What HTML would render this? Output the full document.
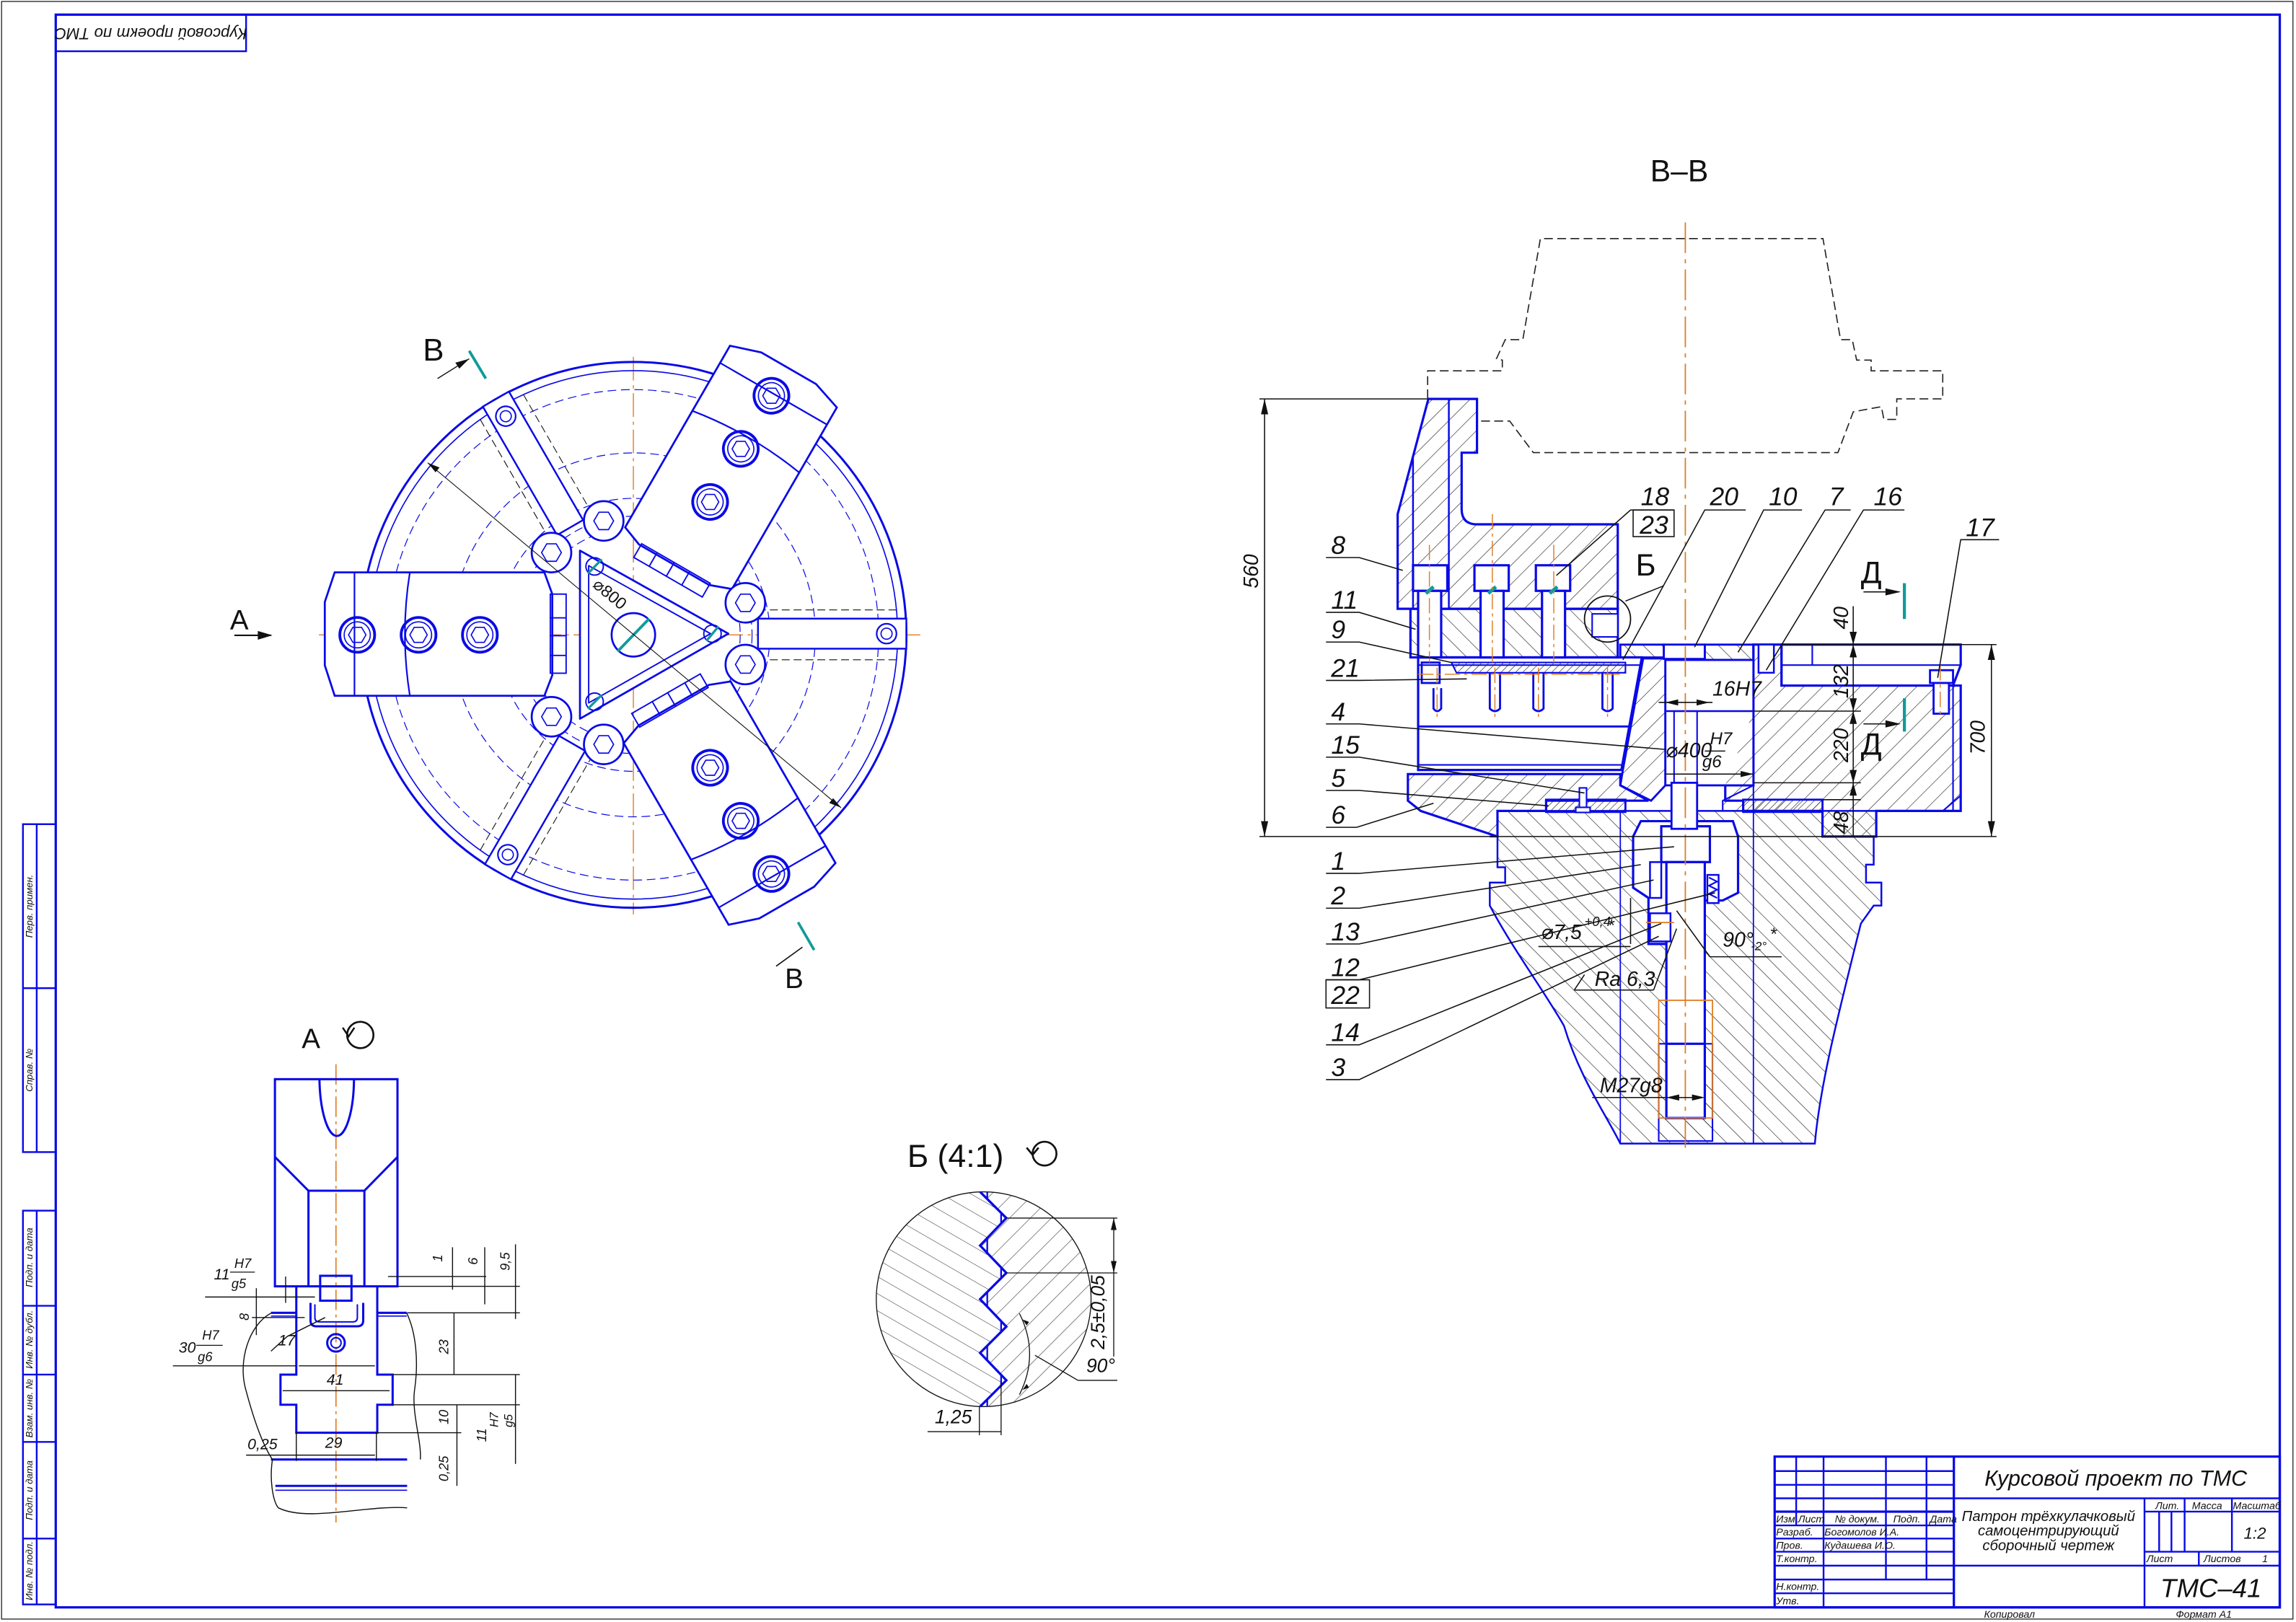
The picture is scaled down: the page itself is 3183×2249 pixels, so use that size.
<!DOCTYPE html>
<html><head><meta charset="utf-8">
<style>
html,body{margin:0;padding:0;background:#fff;}
svg{display:block;}
text{font-family:"Liberation Sans","DejaVu Sans",sans-serif;font-style:italic;fill:#111;}
.b{fill:none;stroke:#0a0ae6;}
.bw{fill:#fff;stroke:#0a0ae6;}
.k{fill:none;stroke:#111;}
.o{fill:none;stroke:#e07a20;}
</style></head>
<body>
<svg width="3183" height="2249" viewBox="0 0 1568 1108" xmlns="http://www.w3.org/2000/svg">
<defs>
<pattern id="h1" patternUnits="userSpaceOnUse" width="26" height="26" patternTransform="rotate(45)"><line x1="0" y1="0" x2="0" y2="26" stroke="#222" stroke-width="1.8"/></pattern>
<pattern id="h2" patternUnits="userSpaceOnUse" width="26" height="26" patternTransform="rotate(-45)"><line x1="0" y1="0" x2="0" y2="26" stroke="#222" stroke-width="1.8"/></pattern>
<pattern id="h3" patternUnits="userSpaceOnUse" width="10" height="10" patternTransform="rotate(45)"><line x1="0" y1="0" x2="0" y2="10" stroke="#222" stroke-width="1.8"/></pattern>
<pattern id="hb1" patternUnits="userSpaceOnUse" width="62" height="62" patternTransform="rotate(-60)"><line x1="0" y1="0" x2="0" y2="62" stroke="#222" stroke-width="3"/></pattern>
<pattern id="hb2" patternUnits="userSpaceOnUse" width="62" height="62" patternTransform="rotate(45)"><line x1="0" y1="0" x2="0" y2="62" stroke="#222" stroke-width="3"/></pattern>
<clipPath id="cb"><circle cx="555" cy="730" r="450"/></clipPath>
</defs>

<!-- frames -->
<rect x="1" y="1" width="1565" height="1105" fill="none" stroke="#111" stroke-width="0.6"/>
<rect x="38" y="10" width="1519" height="1088" class="b" stroke-width="1.6"/>
<rect x="38" y="10" width="130" height="25" class="b" stroke-width="1.2"/>
<text transform="translate(103,22) rotate(180)" font-size="11" text-anchor="middle" dominant-baseline="middle">Курсовой проект по ТМС</text>

<!-- left strip -->
<g class="b" stroke-width="1.2">
<rect x="15.6" y="563" width="22.4" height="224"/>
<line x1="25" y1="563" x2="25" y2="787"/>
<line x1="15.6" y1="675" x2="38" y2="675"/>
<rect x="15.6" y="827" width="22.4" height="269"/>
<line x1="25" y1="827" x2="25" y2="1096"/>
<line x1="15.6" y1="892" x2="38" y2="892"/>
<line x1="15.6" y1="939" x2="38" y2="939"/>
<line x1="15.6" y1="985" x2="38" y2="985"/>
<line x1="15.6" y1="1051" x2="38" y2="1051"/>
</g>
<g font-size="6.5">
<text transform="translate(22,619) rotate(-90)" text-anchor="middle">Перв. примен.</text>
<text transform="translate(22,731) rotate(-90)" text-anchor="middle">Справ. №</text>
<text transform="translate(22,859) rotate(-90)" text-anchor="middle">Подп. и дата</text>
<text transform="translate(22,915) rotate(-90)" text-anchor="middle">Инв. № дубл.</text>
<text transform="translate(22,962) rotate(-90)" text-anchor="middle">Взам. инв. №</text>
<text transform="translate(22,1018) rotate(-90)" text-anchor="middle">Подп. и дата</text>
<text transform="translate(22,1073) rotate(-90)" text-anchor="middle">Инв. № подл.</text>
</g>

<!-- title block -->
<g class="b" stroke-width="1.2">
<rect x="1212" y="995" width="345" height="103" stroke-width="1.6"/>
<line x1="1226.7" y1="995" x2="1226.7" y2="1042"/>
<line x1="1245.4" y1="995" x2="1245.4" y2="1098"/>
<line x1="1288" y1="995" x2="1288" y2="1079"/>
<line x1="1315.7" y1="995" x2="1315.7" y2="1079"/>
<line x1="1334.4" y1="995" x2="1334.4" y2="1098" stroke-width="1.6"/>
<line x1="1212" y1="1004.9" x2="1334.4" y2="1004.9"/>
<line x1="1212" y1="1014.3" x2="1334.4" y2="1014.3"/>
<line x1="1212" y1="1023.5" x2="1557" y2="1023.5"/>
<line x1="1212" y1="1032.6" x2="1334.4" y2="1032.6" stroke-width="1.6"/>
<line x1="1212" y1="1042" x2="1334.4" y2="1042"/>
<line x1="1212" y1="1051" x2="1334.4" y2="1051"/>
<line x1="1212" y1="1060" x2="1334.4" y2="1060"/>
<line x1="1212" y1="1069.5" x2="1557" y2="1069.5"/>
<line x1="1212" y1="1079" x2="1334.4" y2="1079"/>
<line x1="1212" y1="1088.4" x2="1334.4" y2="1088.4"/>
<line x1="1464.6" y1="1023.5" x2="1464.6" y2="1098"/>
<line x1="1492" y1="1023.5" x2="1492" y2="1060"/>
<line x1="1524.3" y1="1023.5" x2="1524.3" y2="1060"/>
<line x1="1464.6" y1="1032.6" x2="1557" y2="1032.6"/>
<line x1="1464.6" y1="1060" x2="1557" y2="1060"/>
<line x1="1474.6" y1="1032.6" x2="1474.6" y2="1060"/>
<line x1="1483" y1="1032.6" x2="1483" y2="1060"/>
<line x1="1501.7" y1="1060" x2="1501.7" y2="1069.5"/>
</g>
<text x="1445" y="1015" font-size="15" text-anchor="middle">Курсовой проект по ТМС</text>
<g font-size="10" text-anchor="middle">
<text x="1399" y="1039">Патрон трёхкулачковый</text>
<text x="1399" y="1049">самоцентрирующий</text>
<text x="1399" y="1059">сборочный чертеж</text>
</g>
<g font-size="7">
<text x="1472" y="1031">Лит.</text><text x="1497" y="1031">Масса</text><text x="1525" y="1031">Масштаб</text>
<text x="1466" y="1067">Лист</text><text x="1505" y="1067">Листов</text><text x="1545" y="1067">1</text>
<text x="1213" y="1040">Изм.</text><text x="1228" y="1040">Лист</text><text x="1253" y="1040">№ докум.</text><text x="1293" y="1040">Подп.</text><text x="1318" y="1040">Дата</text>
<text x="1213" y="1049">Разраб.</text><text x="1246" y="1049">Богомолов И.А.</text>
<text x="1213" y="1058">Пров.</text><text x="1246" y="1058">Кудашева И.О.</text>
<text x="1213" y="1067">Т.контр.</text>
<text x="1213" y="1086">Н.контр.</text>
<text x="1213" y="1096">Утв.</text>
<text x="1355" y="1105">Копировал</text>
<text x="1486" y="1105">Формат    А1</text>
</g>
<text x="1540" y="1051" font-size="11" text-anchor="middle">1:2</text>
<text x="1510" y="1091" font-size="18" text-anchor="middle">ТМС–41</text>

<!-- ============ FRONT VIEW ============ -->
<g transform="translate(206.9,216.7) scale(0.2702)">
<line class="o" x1="40" y1="803" x2="1560" y2="803" stroke-width="2.5" stroke-dasharray="60 12 8 12"/>
<line class="o" x1="835" y1="100" x2="835" y2="1510" stroke-width="2.5" stroke-dasharray="60 12 8 12"/>
<circle cx="835" cy="803" r="690" class="b" stroke-width="5.5"/>
<circle cx="835" cy="803" r="668" class="b" stroke-width="3"/>
<g class="b" stroke-width="2.2" stroke-dasharray="22 12">
<circle cx="835" cy="803" r="620"/>
<circle cx="835" cy="803" r="460"/>
<circle cx="835" cy="803" r="345"/>
<circle cx="835" cy="803" r="300"/>
<circle cx="835" cy="803" r="270"/>
</g>
<!-- spokes -->
<g id="spoke">
<line x1="1150" y1="740" x2="1500" y2="740" class="k" stroke-width="2" stroke-dasharray="20 10"/>
<line x1="1150" y1="866" x2="1500" y2="866" class="k" stroke-width="2" stroke-dasharray="20 10"/>
<rect x="1150" y="762" width="375" height="76" class="bw" stroke-width="4.5"/>
<circle cx="1475" cy="800" r="25" class="b" stroke-width="4"/>
<circle cx="1475" cy="800" r="14" class="b" stroke-width="3"/>
</g>
<use href="#spoke" transform="rotate(120 835 803)"/>
<use href="#spoke" transform="rotate(240 835 803)"/>
<!-- jaws -->
<g id="jaw">
<polygon points="80,645 610,645 630,700 630,905 610,957 80,957 55,880 55,720" class="bw" stroke-width="5"/>
<line x1="130" y1="645" x2="130" y2="957" class="b" stroke-width="4"/>
<path d="M270,645 Q245,800 270,957" class="b" stroke-width="4"/>
<g class="b" stroke-width="3.5">
<rect x="625" y="700" width="40" height="200"/>
<line x1="625" y1="760" x2="665" y2="760"/><line x1="625" y1="805" x2="665" y2="805"/><line x1="625" y1="855" x2="665" y2="855"/>
</g>
<g class="b">
<circle cx="137" cy="803" r="44" stroke-width="7"/><circle cx="137" cy="803" r="33" stroke-width="3"/>
<polygon points="159,803 148,822 126,822 115,803 126,784 148,784" stroke-width="3"/>
<circle cx="292" cy="803" r="44" stroke-width="7"/><circle cx="292" cy="803" r="33" stroke-width="3"/>
<polygon points="314,803 303,822 281,822 270,803 281,784 303,784" stroke-width="3"/>
<circle cx="447" cy="803" r="44" stroke-width="7"/><circle cx="447" cy="803" r="33" stroke-width="3"/>
<polygon points="469,803 458,822 436,822 425,803 436,784 458,784" stroke-width="3"/>
</g>
</g>
<use href="#jaw" transform="rotate(120 835 803)"/>
<use href="#jaw" transform="rotate(240 835 803)"/>
<!-- hub -->
<polygon points="700,590 1075,800 700,1015" class="bw" stroke-width="5" stroke-linejoin="round"/>
<polygon points="722,628 1030,800 722,975" class="b" stroke-width="3.5" stroke-linejoin="round"/>
<g id="bolt6" class="bw" stroke-width="5">
<circle cx="760" cy="515" r="50"/><polygon points="785,515 772,537 748,537 735,515 748,493 772,493" stroke-width="3"/>
</g>
<use href="#bolt6" transform="translate(-132,80)"/>
<use href="#bolt6" transform="translate(358,207)"/>
<use href="#bolt6" transform="translate(358,363)"/>
<use href="#bolt6" transform="translate(-132,495)"/>
<use href="#bolt6" transform="translate(0,565)"/>
<circle cx="835" cy="803" r="55" class="b" stroke-width="5"/>
<line x1="795" y1="845" x2="875" y2="762" stroke="#129a9a" stroke-width="7"/>
<g class="b" stroke-width="3.5"><circle cx="737" cy="630" r="22"/><circle cx="737" cy="972" r="22"/><circle cx="1035" cy="800" r="22"/></g>
<g stroke="#129a9a" stroke-width="6"><line x1="720" y1="648" x2="755" y2="612"/><line x1="720" y1="990" x2="755" y2="955"/><line x1="1020" y1="818" x2="1050" y2="782"/></g>
<line x1="315" y1="368" x2="1360" y2="1240" class="k" stroke-width="2"/>
<polygon points="315,368 345,380 335,392" fill="#111"/><polygon points="1360,1240 1330,1228 1340,1216" fill="#111"/>
<text transform="translate(730,680) rotate(40)" font-size="42" style="font-style:normal">⌀800</text>
<!-- section marks -->
<text x="303" y="110" font-size="80" style="font-style:normal">В</text>
<line x1="340" y1="155" x2="420" y2="105" class="k" stroke-width="2.5"/><polygon points="420,105 385,115 395,130" fill="#111"/>
<line x1="420" y1="85" x2="462" y2="155" stroke="#129a9a" stroke-width="7"/>
</g>
<text x="157" y="430" font-size="19" style="font-style:normal">А</text>
<line x1="160" y1="434" x2="185" y2="434" class="k" stroke-width="1"/><polygon points="186,434 176,431 176,437" fill="#111"/>
<text x="536" y="675" font-size="19" style="font-style:normal">В</text>
<line x1="545" y1="630" x2="556" y2="649" stroke="#129a9a" stroke-width="1.8"/>
<line x1="530" y1="660" x2="548" y2="647" class="k" stroke-width="0.8"/>

<!-- ============ VIEW A ============ -->
<text x="206" y="716" font-size="19" style="font-style:normal">А</text>
<circle cx="246" cy="707" r="9" class="k" stroke-width="1.3"/><path d="M234,702 L238,708 L242,702" class="k" stroke-width="1.2"/>
<line class="o" x1="229.4" y1="727" x2="229.4" y2="1040" stroke-width="0.8" stroke-dasharray="14 3 2 3"/>
<g class="b" stroke-width="1.5">
<rect x="187.7" y="737.2" width="83.7" height="141.5"/>
<path d="M218.1,737.2 C218.5,760 224,776 230,776 C236,776 241.5,760 241.7,737.2"/>
<polyline points="187.7,790.3 210.6,813.4 248.8,813.4 271.4,790.3"/>
<line x1="210.6" y1="813.4" x2="210.6" y2="878.7"/><line x1="248.8" y1="813.4" x2="248.8" y2="878.7"/>
<rect x="218.6" y="871.5" width="21.4" height="17"/>
<path d="M212,890 L212,902 Q212,906 216,906 L244,906 Q248,906 248,902 L248,890"/>
<path d="M215,891 L215,900 Q215,903 218,903 L241,903 Q244,903 244,900 L244,891" stroke-width="1"/>
<polyline points="202.3,878.7 202.3,939 191.5,939 191.5,959.6 202.3,959.6 202.3,978.7 257.6,978.7 257.6,959.6 268.1,959.6 268.1,939 257.6,939 257.6,878.7"/>
<line x1="185" y1="896.8" x2="202.3" y2="896.8"/><line x1="185" y1="899" x2="202.3" y2="899" stroke-width="0.8"/>
<line x1="257.6" y1="896.8" x2="277.7" y2="896.8"/><line x1="257.6" y1="899" x2="277.7" y2="899" stroke-width="0.8"/>
<line x1="185" y1="997" x2="278" y2="997"/><line x1="188" y1="1015" x2="278" y2="1015"/><line x1="188" y1="1018" x2="278" y2="1018" stroke-width="0.8"/>
<circle cx="229.4" cy="917.3" r="6"/><circle cx="229.4" cy="917.3" r="3.5" stroke-width="1"/>
</g>
<g class="k" stroke-width="0.7">
<path d="M185,897 C170,905 162,930 168,950 C172,965 178,985 186,997 C184,1010 186,1025 190,1030 C210,1040 250,1028 278,1030"/>
<path d="M277.7,897 C284,910 286,930 283,950 C281,965 288,985 287,997"/>
<line x1="140" y1="886" x2="215" y2="886"/><line x1="118" y1="933" x2="202" y2="933"/>
<line x1="195" y1="872" x2="195" y2="890"/><line x1="172" y1="900" x2="208" y2="900"/>
<line x1="175" y1="880" x2="175" y2="912"/>
<line x1="265" y1="872" x2="332" y2="872"/><line x1="272" y1="878.7" x2="355" y2="878.7"/><line x1="278" y1="896.8" x2="355" y2="896.8"/>
<line x1="268" y1="939" x2="355" y2="939"/><line x1="268" y1="959.6" x2="355" y2="959.6"/>
<line x1="258" y1="978.7" x2="315" y2="978.7"/>
<line x1="309" y1="852" x2="309" y2="881"/><line x1="331" y1="852" x2="331" y2="891"/><line x1="352" y1="850" x2="352" y2="901"/>
<line x1="310" y1="897" x2="310" y2="939"/><line x1="352" y1="939" x2="352" y2="1000"/>
<line x1="312" y1="959.6" x2="312" y2="1015"/>
<line x1="204" y1="933" x2="256" y2="933"/><line x1="193" y1="950" x2="266" y2="950"/>
<line x1="168" y1="994" x2="256" y2="994"/>
<line x1="202.3" y1="978" x2="202.3" y2="998"/><line x1="257" y1="978" x2="257" y2="998"/>
<line x1="196" y1="913" x2="222" y2="900"/><line x1="185" y1="923" x2="196" y2="913"/>
</g>
<g font-size="10.5">
<text x="146" y="874">11</text><text x="160" y="866" font-size="9">H7</text><text x="158" y="880" font-size="9">g5</text>
<line x1="157" y1="869" x2="174" y2="869" class="k" stroke-width="0.6"/>
<text transform="translate(170,902) rotate(-90)" font-size="9">8</text>
<text x="122" y="924">30</text><text x="138" y="915" font-size="9">H7</text><text x="135" y="930" font-size="9">g6</text>
<line x1="134" y1="919" x2="152" y2="919" class="k" stroke-width="0.6"/>
<text x="190" y="919">17</text>
<text x="223" y="946">41</text>
<text x="222" y="989">29</text>
<text x="169" y="990">0,25</text>
<text transform="translate(302,862) rotate(-90)" font-size="9">1</text>
<text transform="translate(326,864) rotate(-90)" font-size="9">6</text>
<text transform="translate(348,868) rotate(-90)" font-size="9">9,5</text>
<text transform="translate(306,925) rotate(-90)" font-size="9">23</text>
<text transform="translate(306,973) rotate(-90)" font-size="9">10</text>
<text transform="translate(306,1012) rotate(-90)" font-size="9">0,25</text>
<text transform="translate(332,985) rotate(-90)" font-size="9">11</text>
<text transform="translate(340,975) rotate(-90)" font-size="8">H7</text>
<text transform="translate(350,975) rotate(-90)" font-size="8">g5</text>
</g>

<!-- ============ VIEW Б ============ -->
<g transform="translate(581.3,768.5) scale(0.163)">
<text x="235" y="175" font-size="135" style="font-style:normal">Б  (4:1)</text>
<circle cx="810" cy="120" r="50" class="k" stroke-width="8"/><path d="M735,95 L760,125 L785,95" class="k" stroke-width="8"/>
<g clip-path="url(#cb)">
<path d="M0,280 L540,280 L650,390 L540,505 L650,620 L540,730 L650,845 L540,955 L650,1070 L540,1180 L0,1180 Z" fill="url(#hb1)"/>
<path d="M1100,280 L540,280 L650,390 L540,505 L650,620 L540,730 L650,845 L540,955 L650,1070 L540,1180 L1100,1180 Z" fill="url(#hb2)"/>
</g>
<circle cx="555" cy="730" r="450" class="k" stroke-width="4"/>
<polyline points="540,280 650,390 540,505 650,620 540,730 650,845 540,955 650,1070 540,1180" fill="none" stroke="#0a0ae6" stroke-width="10"/>
<g stroke="#0a0ae6" stroke-width="7">
<line x1="570" y1="280" x2="570" y2="310"/><line x1="628" y1="365" x2="628" y2="412"/><line x1="570" y1="475" x2="570" y2="535"/>
<line x1="628" y1="595" x2="628" y2="642"/><line x1="570" y1="700" x2="570" y2="760"/><line x1="628" y1="820" x2="628" y2="868"/>
<line x1="570" y1="925" x2="570" y2="985"/><line x1="628" y1="1045" x2="628" y2="1092"/><line x1="570" y1="1150" x2="570" y2="1180"/>
</g>
<g class="k" stroke-width="4">
<line x1="650" y1="390" x2="1115" y2="390"/><line x1="650" y1="620" x2="1115" y2="620"/>
<line x1="1100" y1="390" x2="1100" y2="970"/>
<path d="M705,790 Q790,960 705,1130"/>
<line x1="770" y1="965" x2="950" y2="1070"/><line x1="950" y1="1070" x2="1115" y2="1070"/>
<line x1="537" y1="1180" x2="537" y2="1300"/><line x1="628" y1="1080" x2="628" y2="1300"/>
<line x1="320" y1="1285" x2="628" y2="1285"/>
</g>
<g fill="#111"><polygon points="1100,390 1088,440 1112,440"/><polygon points="1100,620 1088,570 1112,570"/><polygon points="718,815 735,840 745,825"/><polygon points="718,1110 735,1085 745,1100"/></g>
<text transform="translate(1060,940) rotate(-90)" font-size="80">2,5±0,05</text>
<text x="985" y="1035" font-size="80">90°</text>
<text x="350" y="1250" font-size="80">1,25</text>
</g>

<!-- ============ SECTION В-В ============ -->
<text x="1127" y="124" font-size="21" style="font-style:normal">В–В</text>
<polyline fill="none" stroke="#222" stroke-width="0.8" stroke-dasharray="6 3" points="975,272 975,253.3 1026,253.3 1026,246 1022,245 1028,232 1040,232 1052,163 1245,163 1257,232 1265,232 1268,246 1277.9,246 1277.9,253.3 1326.8,253.3 1326.8,272.5 1295.4,272.5 1295.4,286.5 1286.6,286.5 1284.9,277.8 1265.7,281.3 1255.2,309.2 1047.2,309.2 1031,287.6 1008,287.6"/>
<g transform="translate(837.4,246.3) scale(0.3496)">
<!-- spindle -->
<path d="M515,930 L530,930 L530,880 L1270,880 L1270,930 L1265,930 L1265,985 L1250,985 L1250,1020 L1280,1020 L1280,1065 L1265,1065 L1240,1100 C1190,1300 1160,1420 1150,1530 L770,1530 C740,1470 690,1400 660,1300 C620,1230 560,1150 515,1065 L515,1020 L545,1020 L545,990 L530,990 L530,930 Z" fill="url(#h2)" stroke="#0a0ae6" stroke-width="3.5"/>
<!-- right body -->
<path d="M1030,555 L1085,555 L1085,635 L1435,635 L1435,880 L1270,880 L1270,930 L1165,930 L1165,880 L1010,880 L1010,860 L975,860 L975,830 L1030,830 Z" fill="url(#h1)" stroke="#0a0ae6" stroke-width="4.5"/>
<path d="M1085,555 L1435,555 L1435,595 L1420,635 L1085,635 Z" class="bw" stroke-width="4.5"/>
<line x1="1085" y1="595" x2="1435" y2="595" class="b" stroke-width="3"/><line x1="1145" y1="555" x2="1145" y2="595" class="b" stroke-width="3"/>
<rect x="1375" y="605" width="45" height="25" class="bw" stroke-width="4"/><rect x="1382" y="630" width="30" height="60" class="bw" stroke-width="4"/>
<path d="M1420,635 L1420,880 L1400,880 L1435,850" class="b" stroke-width="3"/>
<!-- flange 6 -->
<path d="M355,808 L770,808 L770,830 L825,860 L625,860 L625,880 L530,880 L530,930 L380,880 L355,860 Z" fill="url(#h1)" stroke="#0a0ae6" stroke-width="4.5"/>
<path d="M970,860 L1030,830 L1030,880 L970,880 Z" fill="url(#h1)" stroke="#0a0ae6" stroke-width="3"/>
<!-- plates 5 -->
<rect x="625" y="858" width="155" height="24" fill="url(#h3)" stroke="#0a0ae6" stroke-width="4"/>
<rect x="1010" y="858" width="155" height="24" fill="url(#h3)" stroke="#0a0ae6" stroke-width="4"/>
<rect x="690" y="835" width="14" height="40" class="bw" stroke-width="3"/><rect x="683" y="873" width="28" height="10" class="bw" stroke-width="3"/>
<!-- central wedge -->
<path d="M775,800 L815,580 L858,580 L858,830 L830,860 L770,830 Z" fill="url(#h1)" stroke="#0a0ae6" stroke-width="4"/>
<path d="M858,585 L1030,585 L1030,830 L858,830 Z" class="bw" stroke-width="4"/>
<line x1="858" y1="685" x2="1030" y2="685" class="b" stroke-width="3.5"/>
<rect x="875" y="685" width="45" height="140" class="b" stroke-width="3"/>
<path d="M1030,685 L1030,830 L975,830" fill="url(#h1)"/>
<!-- part 10 ring -->
<path d="M770,555 L855,555 L855,582 L770,582 Z" fill="url(#h2)" stroke="#0a0ae6" stroke-width="4"/>
<path d="M935,555 L1030,555 L1030,585 L935,585 Z" fill="url(#h2)" stroke="#0a0ae6" stroke-width="4"/>
<rect x="855" y="555" width="80" height="28" class="bw" stroke-width="4"/>
<rect x="1040" y="555" width="30" height="55" class="bw" stroke-width="3.5"/>
<rect x="778" y="585" width="18" height="10" fill="#111"/>
<!-- body 4 -->
<path d="M375,580 L812,580 L772,800 L375,800 Z" class="bw" stroke-width="4.5"/>
<line x1="375" y1="595" x2="808" y2="595" class="b" stroke-width="3"/>
<line x1="375" y1="715" x2="790" y2="715" class="b" stroke-width="4"/>
<line x1="375" y1="790" x2="775" y2="790" class="b" stroke-width="3"/>
<path d="M440,590 L780,590 L780,610 L450,610 Z" fill="url(#h3)" stroke="#0a0ae6" stroke-width="3"/>
<g class="b" stroke-width="4">
<path d="M515,610 L515,680 Q525,690 535,680 L535,610"/>
<path d="M600,610 L600,680 Q610,690 620,680 L620,610"/>
<path d="M735,610 L735,680 Q745,690 755,680 L755,610"/>
<path d="M405,640 L405,680 Q412,690 420,680 L420,640"/>
<rect x="382" y="590" width="35" height="40"/>
</g>
<!-- jaw 8 and block 11 -->
<path d="M395,75 L490,75 L490,180 L460,180 L460,290 Q460,320 490,320 L765,320 L765,485 L335,485 L335,300 Z" fill="url(#h1)" stroke="#0a0ae6" stroke-width="4.5"/>
<line x1="435" y1="75" x2="435" y2="485" class="b" stroke-width="3.5"/>
<line x1="365" y1="190" x2="365" y2="485" class="b" stroke-width="3.5"/>
<rect x="360" y="485" width="405" height="95" fill="url(#h2)" stroke="#0a0ae6" stroke-width="4.5"/>
<rect x="715" y="495" width="50" height="45" class="bw" stroke-width="3"/>
<circle cx="745" cy="505" r="45" class="k" stroke-width="2.5"/>
<g class="bw" stroke-width="4.5">
<rect x="365" y="400" width="67" height="50"/><rect x="375" y="450" width="45" height="130"/>
<rect x="485" y="400" width="67" height="50"/><rect x="497" y="450" width="45" height="130"/>
<rect x="605" y="400" width="67" height="50"/><rect x="617" y="450" width="45" height="130"/>
</g>
<g stroke="#129a9a" stroke-width="7"><line x1="390" y1="455" x2="405" y2="442"/><line x1="512" y1="455" x2="527" y2="442"/><line x1="632" y1="455" x2="647" y2="442"/></g>
<g class="o" stroke-width="2" stroke-dasharray="30 8 6 8">
<line x1="397" y1="360" x2="397" y2="590"/><line x1="520" y1="300" x2="520" y2="590"/><line x1="640" y1="360" x2="640" y2="590"/>
<line x1="412" y1="600" x2="412" y2="700"/><line x1="525" y1="600" x2="525" y2="700"/><line x1="610" y1="600" x2="610" y2="700"/><line x1="745" y1="600" x2="745" y2="700"/>
<line x1="375" y1="613" x2="775" y2="613"/><line x1="1395" y1="595" x2="1395" y2="700"/>
</g>
<!-- center clamp parts -->
<path d="M795,930 L810,900 L990,900 L1000,930 L1000,1040 L970,1055 L935,1055 L935,1140 L825,1140 L825,1050 L795,1030 Z" class="bw" stroke-width="4.5"/>
<rect x="850" y="910" width="95" height="70" class="bw" stroke-width="4.5"/>
<rect x="870" y="825" width="50" height="90" class="bw" stroke-width="4"/>
<rect x="860" y="980" width="75" height="500" class="bw" stroke-width="4.5"/>
<rect x="828" y="980" width="22" height="70" class="bw" stroke-width="3.5"/>
<rect x="940" y="1005" width="22" height="55" class="bw" stroke-width="3.5"/>
<path d="M943,1010 l16,8 l-16,8 l16,8 l-16,8 l16,8" class="b" stroke-width="3"/>
<rect x="828" y="1080" width="40" height="55" class="bw" stroke-width="3.5"/>
<rect x="845" y="1335" width="105" height="190" fill="url(#h2)" stroke="#0a0ae6" stroke-width="3"/>
<rect x="860" y="1335" width="75" height="145" class="bw" stroke-width="4.5"/>
<rect x="845" y="1250" width="105" height="230" fill="none" stroke="#e07a20" stroke-width="2.5"/>
<line x1="820" y1="1098" x2="875" y2="1098" stroke="#e07a20" stroke-width="2.5"/>
<line x1="770" y1="880" x2="770" y2="1530" class="b" stroke-width="2.5"/>
<line x1="1030" y1="880" x2="1030" y2="1530" class="b" stroke-width="2.5"/>
<line class="o" x1="897" y1="-270" x2="897" y2="1540" stroke-width="2.5" stroke-dasharray="60 12 8 12"/>
<!-- dimensions -->
<g class="k" stroke-width="2.2">
<line x1="65" y1="75" x2="395" y2="75"/><line x1="65" y1="930" x2="1505" y2="930"/>
<line x1="75" y1="75" x2="75" y2="930"/>
<line x1="1085" y1="555" x2="1505" y2="555"/><line x1="1495" y1="555" x2="1495" y2="930"/>
<line x1="1225" y1="480" x2="1225" y2="930"/>
<line x1="1030" y1="685" x2="1240" y2="685"/><line x1="1030" y1="825" x2="1240" y2="825"/><line x1="1165" y1="858" x2="1240" y2="858"/>
<line x1="845" y1="668" x2="950" y2="668"/>
<line x1="858" y1="808" x2="1030" y2="808"/>
<line x1="790" y1="1050" x2="790" y2="1140"/><line x1="610" y1="1145" x2="790" y2="1145"/>
<line x1="945" y1="1165" x2="1085" y2="1165"/><line x1="880" y1="1075" x2="945" y2="1165"/>
<line x1="715" y1="1440" x2="930" y2="1440"/>
<line x1="680" y1="1230" x2="835" y2="1230"/><line x1="680" y1="1230" x2="700" y2="1200"/><line x1="835" y1="1230" x2="880" y2="1110"/>
</g>
<g fill="#111">
<polygon points="75,75 68,105 82,105"/><polygon points="75,930 68,900 82,900"/>
<polygon points="1495,555 1488,585 1502,585"/><polygon points="1495,930 1488,900 1502,900"/>
<polygon points="1225,555 1218,530 1232,530"/><polygon points="1225,555 1218,580 1232,580"/>
<polygon points="1225,685 1218,660 1232,660"/><polygon points="1225,685 1218,710 1232,710"/>
<polygon points="1225,825 1218,800 1232,800"/><polygon points="1225,825 1218,850 1232,850"/>
<polygon points="858,668 883,662 883,674"/><polygon points="920,668 945,662 945,674" transform="rotate(180 932 668)"/>
<polygon points="1030,808 1005,802 1005,814"/>
<polygon points="860,1440 885,1434 885,1446"/><polygon points="935,1440 910,1434 910,1446"/>
</g>
<!-- Д marks -->
<g class="k" stroke-width="2.2"><line x1="1245" y1="452" x2="1315" y2="452"/><line x1="1245" y1="710" x2="1315" y2="710"/></g>
<polygon points="1318,452 1288,445 1288,459" fill="#111"/><polygon points="1318,710 1288,703 1288,717" fill="#111"/>
<g stroke="#129a9a" stroke-width="6"><line x1="1325" y1="435" x2="1325" y2="505"/><line x1="1325" y1="660" x2="1325" y2="725"/></g>
<text x="1240" y="435" font-size="60" style="font-style:normal">Д</text>
<text x="1240" y="770" font-size="60" style="font-style:normal">Д</text>
<text x="800" y="420" font-size="60" style="font-style:normal">Б</text>
<line x1="780" y1="470" x2="855" y2="440" class="k" stroke-width="2.2"/>
<!-- leaders -->
<g class="k" stroke-width="2.2">
<polyline points="195,385 260,385 345,410"/>
<polyline points="195,492 260,492 370,525"/>
<polyline points="195,550 260,550 440,590"/>
<polyline points="195,625 260,625 470,622"/>
<polyline points="195,710 260,710 860,760"/>
<polyline points="195,775 260,775 700,845"/>
<polyline points="195,840 260,840 630,870"/>
<polyline points="195,912 255,912 405,865"/>
<polyline points="195,1002 260,1002 875,950"/>
<polyline points="195,1070 260,1070 810,985"/>
<polyline points="195,1140 260,1140 835,1015"/>
<polyline points="195,1210 260,1210 955,1040"/>
<rect x="195" y="1210" width="85" height="55"/>
<polyline points="195,1337 260,1337 850,1100"/>
<polyline points="195,1405 260,1405 845,1125"/>
<polyline points="875,292 790,292 645,420"/>
<rect x="795" y="292" width="80" height="52"/>
<polyline points="1015,292 935,292 775,585"/>
<polyline points="1125,292 1050,292 915,560"/>
<polyline points="1220,292 1170,292 1000,570"/>
<polyline points="1325,292 1245,292 1055,605"/>
<polyline points="1510,350 1435,350 1390,620"/>
</g>
<g font-size="50">
<text x="205" y="378">8</text><text x="205" y="485">11</text><text x="205" y="543">9</text><text x="205" y="618">21</text>
<text x="205" y="703">4</text><text x="205" y="768">15</text><text x="205" y="833">5</text><text x="205" y="905">6</text>
<text x="205" y="995">1</text><text x="205" y="1063">2</text><text x="205" y="1133">13</text><text x="205" y="1203">12</text>
<text x="205" y="1257">22</text><text x="205" y="1330">14</text><text x="205" y="1398">3</text>
<text x="810" y="283">18</text><text x="808" y="338">23</text><text x="945" y="283">20</text><text x="1060" y="283">10</text>
<text x="1178" y="283">7</text><text x="1265" y="283">16</text><text x="1445" y="343">17</text>
<text transform="translate(62,445) rotate(-90)" font-size="40">560</text>
<text transform="translate(1482,770) rotate(-90)" font-size="40">700</text>
<text transform="translate(1215,525) rotate(-90)" font-size="40">40</text>
<text transform="translate(1215,660) rotate(-90)" font-size="40">132</text>
<text transform="translate(1215,785) rotate(-90)" font-size="40">220</text>
<text transform="translate(1215,925) rotate(-90)" font-size="40">48</text>
<text x="950" y="655" font-size="40">16H7</text>
<text x="858" y="775" font-size="40">⌀400</text><text x="945" y="750" font-size="34">H7</text><text x="930" y="795" font-size="34">g6</text>
<line x1="935" y1="763" x2="975" y2="763" class="k" stroke-width="2"/>
<text x="615" y="1130" font-size="40">⌀7,5</text><text x="700" y="1105" font-size="26">+0,4</text><text x="745" y="1115" font-size="34">*</text>
<text x="970" y="1145" font-size="40">90°</text><text x="1025" y="1152" font-size="24">-2°</text><text x="1062" y="1132" font-size="34">*</text>
<text x="720" y="1222" font-size="40">Ra 6,3</text>
<text x="730" y="1430" font-size="40">M27g8</text>
</g>
</g>
</svg>
</body></html>
